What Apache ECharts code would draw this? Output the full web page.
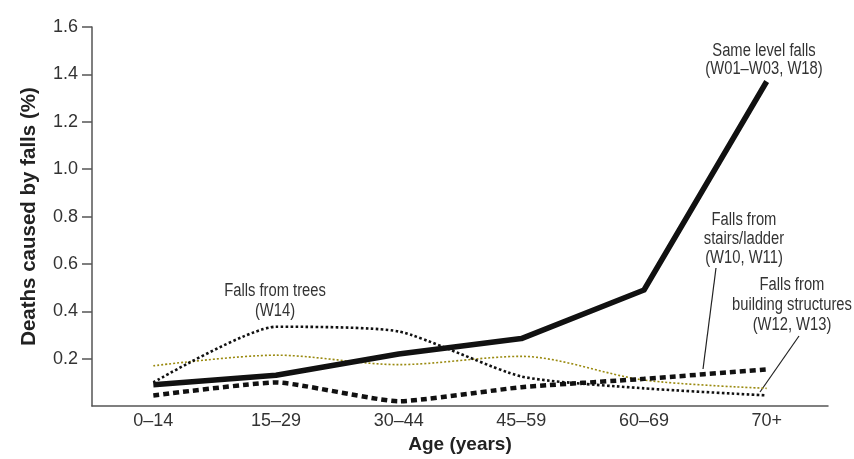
<!DOCTYPE html>
<html>
<head>
<meta charset="utf-8">
<script src="https://cdn.jsdelivr.net/npm/echarts@6/dist/echarts.min.js"></script>
<style>
  html, body { margin: 0; padding: 0; background: #fff; }
  #chart { width: 854px; height: 459px; }
</style>
</head>
<body>
<div id="chart"></div>
<script>
// age groups on the x axis
var ageGroups = ["0–14", "15–29", "30–44", "45–59", "60–69", "70+"];
// y axis ticks (0 has no tick/label in the original)
var yTicks = [0.2, 0.4, 0.6, 0.8, 1.0, 1.2, 1.4, 1.6];

// deaths caused by falls (%)
var sameLevel = [0.09, 0.13, 0.22, 0.285, 0.49, 1.37];
var stairsLadder = [0.045, 0.10, 0.02, 0.08, 0.115, 0.155];
var trees = [0.10, 0.335, 0.315, 0.125, 0.075, 0.045];
var buildings = [0.17, 0.215, 0.175, 0.21, 0.11, 0.075];

var sans = "'Liberation Sans', Arial, sans-serif";
var textColor = "#333";
var axisColor = "#555";

var chart = echarts.init(document.getElementById("chart"));

// annotation text, squeezed a bit to look like the condensed face of the original
function note(x, y, text, lh) {
  return {
    type: "text",
    x: x,
    y: y,
    scaleX: 0.82,
    style: {
      text: text,
      fill: textColor,
      font: "18px " + sans,
      lineHeight: lh,
      align: "center",
      verticalAlign: "middle",
    },
  };
}
function leader(x1, y1, x2, y2) {
  return {
    type: "line",
    shape: { x1: x1, y1: y1, x2: x2, y2: y2 },
    style: { stroke: "#222", lineWidth: 1.2 },
  };
}

var option = {
  animation: false,
  grid: { left: 92, right: 26, top: 27, bottom: 49 },
  xAxis: {
    type: "category",
    data: ageGroups,
    boundaryGap: true,
    name: "Age (years)",
    nameLocation: "middle",
    nameGap: 25,
    nameTextStyle: { color: "#222", fontSize: 19, fontWeight: "bold", fontFamily: sans },
    axisLine: { lineStyle: { color: axisColor, width: 1.5 } },
    axisTick: { length: 12, lineStyle: { color: axisColor, width: 1.5 } },
    axisLabel: { color: textColor, fontSize: 18, fontFamily: sans, margin: 6 },
    splitLine: { show: false },
  },
  yAxis: {
    type: "value",
    min: 0,
    max: 1.6,
    interval: 0.2,
    name: "Deaths caused by falls (%)",
    nameLocation: "middle",
    nameGap: 52,
    nameTextStyle: { color: "#222", fontSize: 20.5, fontWeight: "bold", fontFamily: sans },
    axisLine: { show: true, lineStyle: { color: axisColor, width: 1.5 } },
    axisTick: { show: true, length: 10, customValues: yTicks, lineStyle: { color: axisColor, width: 1.5 } },
    axisLabel: {
      color: textColor,
      fontSize: 18,
      fontFamily: sans,
      margin: 14,
      customValues: yTicks,
      formatter: function (v) { return v.toFixed(1); },
    },
    splitLine: { show: false },
  },
  series: [
    {
      name: "Falls from building structures (W12, W13)",
      type: "line",
      data: buildings,
      symbol: "none",
      smooth: 0.3,
      lineStyle: { color: "#9a8a10", width: 1.6, type: [2, 2] },
      z: 2,
    },
    {
      name: "Falls from trees (W14)",
      type: "line",
      data: trees,
      symbol: "none",
      smooth: 0.2,
      lineStyle: { color: "#111", width: 2.6, type: [2.6, 2.4] },
      z: 3,
    },
    {
      name: "Falls from stairs/ladder (W10, W11)",
      type: "line",
      data: stairsLadder,
      symbol: "none",
      smooth: 0.15,
      lineStyle: { color: "#111", width: 4.5, type: [6, 4] },
      z: 4,
    },
    {
      name: "Same level falls (W01–W03, W18)",
      type: "line",
      data: sameLevel,
      symbol: "none",
      lineStyle: { color: "#111", width: 5.5, join: "round" },
      z: 5,
    },
  ],
  graphic: [
    note(275, 301, "Falls from trees\n(W14)", 20),
    note(764, 60, "Same level falls\n(W01–W03, W18)", 18),
    note(744, 239, "Falls from\nstairs/ladder\n(W10, W11)", 19),
    note(792, 305, "Falls from\nbuilding structures\n(W12, W13)", 20),
    leader(716, 268, 703, 369),
    leader(799, 336, 760, 392),
  ],
};

chart.setOption(option);
</script>
</body>
</html>
